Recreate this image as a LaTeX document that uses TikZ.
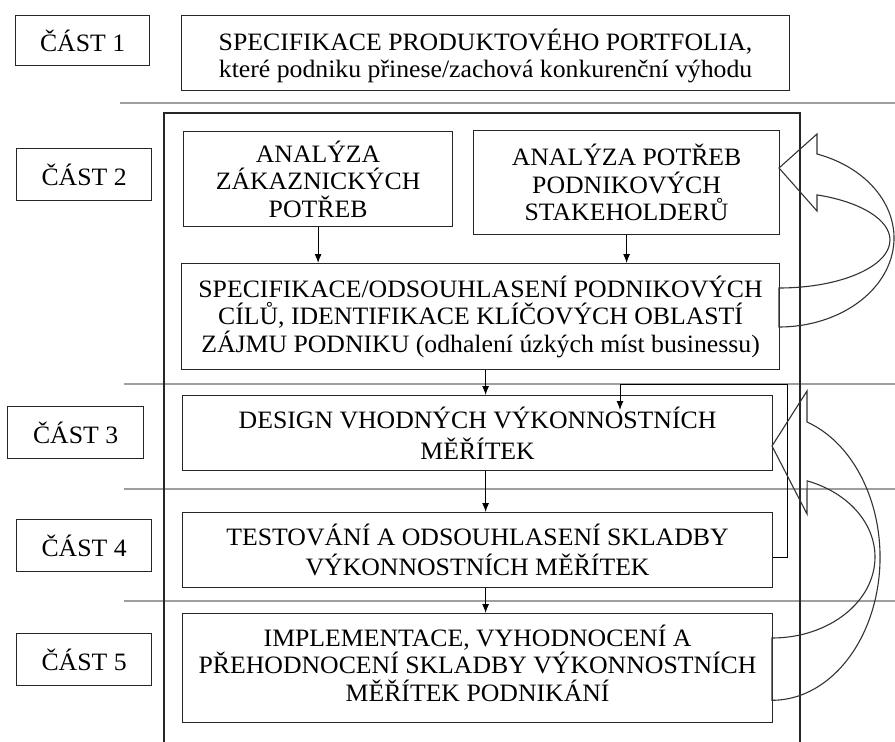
\documentclass[tikz,border=0pt]{standalone}
\usepackage{fontspec}
\setmainfont{Liberation Serif}[FakeStretch=1.03]
\usetikzlibrary{arrows.meta}
\begin{document}
\begin{tikzpicture}[x=1pt,y=-1pt,
  box/.style={draw=black!85, line width=1.2pt, inner sep=0pt, align=center,
    anchor=north west, font=\fontsize{25}{27.5}\selectfont},
  widebox/.style={box, font=\fontsize{25}{30.5}\selectfont},
  part/.style={box},
  sep/.style={draw=black!38, line width=1.4pt},
  frame/.style={draw=black!85, line width=1.2pt},
  arr/.style={draw=black, line width=1pt, -{Latex[length=9pt,width=7pt]}},
  blockarrow/.style={draw=black!80, line width=1.1pt, line join=miter}
]
\useasboundingbox (0,0) rectangle (895,742);

% section separators
\draw[sep] (120,103) -- (895,103);
\draw[sep] (124,384) -- (895,384);
\draw[sep] (124,489) -- (895,489);
\draw[sep] (124,601) -- (895,601);

% frame around parts 2-5
\draw[frame] (164,746) |- (800,113) -- (800,746);

% part labels
\node[part, minimum width=134, minimum height=50] (p1) at (15,15) {ČÁST 1};
\node[part, minimum width=135, minimum height=52] (p2) at (16,148) {ČÁST 2};
\node[part, minimum width=136, minimum height=52] (p3) at (7,406) {ČÁST 3};
\node[part, minimum width=135, minimum height=52] (p4) at (16,519) {ČÁST 4};
\node[part, minimum width=135, minimum height=52] (p5) at (16,633) {ČÁST 5};

% process boxes
\node[box, minimum width=608, minimum height=75, text depth=0pt] (b1) at (181,15)
  {SPECIFIKACE PRODUKTOVÉHO PORTFOLIA,\\ které podniku přinese/zachová konkurenční výhodu};
\node[box, minimum width=269, minimum height=95] (a) at (183,131)
  {ANALÝZA\\ ZÁKAZNICKÝCH\\ POTŘEB};
\node[box, minimum width=306, minimum height=104] (b) at (473,130)
  {ANALÝZA POTŘEB\\ PODNIKOVÝCH\\ STAKEHOLDERŮ};
\node[box, minimum width=598, minimum height=106] (c) at (181,263)
  {SPECIFIKACE/ODSOUHLASENÍ PODNIKOVÝCH\\ CÍLŮ, IDENTIFIKACE KLÍČOVÝCH OBLASTÍ\\ ZÁJMU PODNIKU (odhalení úzkých míst businessu)};
\node[widebox, minimum width=590, minimum height=75] (d) at (182,395)
  {DESIGN VHODNÝCH VÝKONNOSTNÍCH\\ MĚŘÍTEK};
\node[widebox, minimum width=590, minimum height=75] (e) at (182,512)
  {TESTOVÁNÍ A ODSOUHLASENÍ SKLADBY\\ VÝKONNOSTNÍCH MĚŘÍTEK};
\node[box, minimum width=590, minimum height=109, text depth=10pt] (f) at (182,613)
  {IMPLEMENTACE, VYHODNOCENÍ A\\ PŘEHODNOCENÍ SKLADBY VÝKONNOSTNÍCH\\ MĚŘÍTEK PODNIKÁNÍ};

% flow arrows
\draw[arr] (a.south) -- (a.south |- c.north);
\draw[arr] (b.south) -- (b.south |- c.north);
\draw[arr] ([xshift=5pt]c.south) -- ([xshift=5pt]c.south |- d.north);
\draw[arr] ([xshift=5pt]c.south |- d.south) -- ([xshift=5pt]c.south |- e.north);
\draw[arr] ([xshift=5pt]c.south |- e.south) -- ([xshift=5pt]c.south |- f.north);

% feedback from testing back to design
\coordinate (loop) at (787,384);
\coordinate (dtop) at (620,410);
\draw[arr] ([yshift=-7.5pt]e.east) -| (loop) -| (dtop);

% curved block arrows on the right
\draw[blockarrow] (779,168) -- (817,134) -- (817,154)
  arc[start angle=-70.7, end angle=90, x radius=115, y radius=89]
  -- (779,288)
  arc[start angle=90, end angle=-70, x radius=111, y radius=48]
  -- (817,211) -- cycle;
\draw[blockarrow] (772,446) -- (807,391) -- (807,422)
  arc[start angle=-71.1, end angle=90, x radius=108, y radius=143]
  -- (772,638)
  arc[start angle=90, end angle=-70.1, x radius=103, y radius=81]
  -- (807,514) -- cycle;
\end{tikzpicture}
\end{document}
